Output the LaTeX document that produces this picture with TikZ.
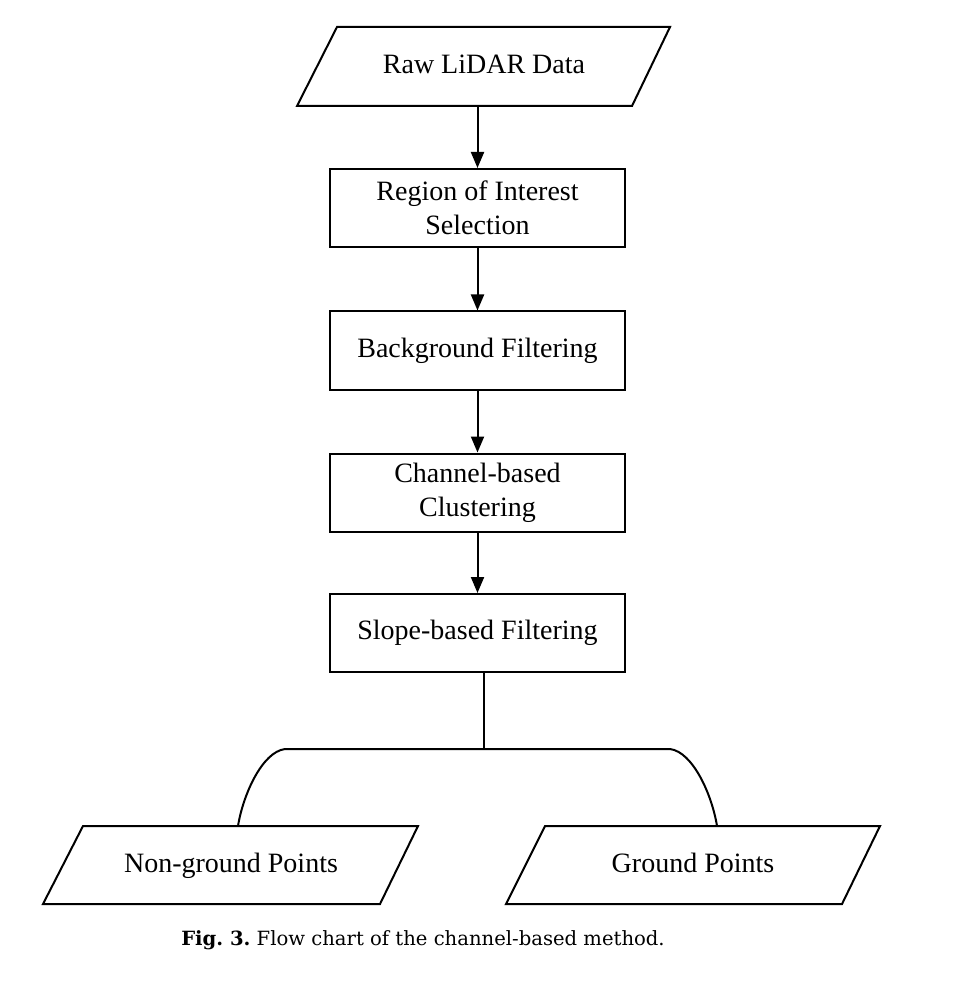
\documentclass[tikz,border=0pt]{standalone}
\usepackage{fontspec}
\setmainfont{Liberation Serif}
\newfontfamily\capfont{DejaVu Serif}
\usetikzlibrary{arrows.meta}
\begin{document}
\frenchspacing
\begin{tikzpicture}[x=0.5pt,y=-0.5pt,
  every node/.style={font=\fontsize{14}{17}\selectfont},
  procbox/.style={draw, line width=1pt, minimum width=147.5pt, minimum height=39pt, align=center, inner sep=0pt},
  iotext/.style={minimum width=150pt, minimum height=39pt, inner sep=0pt, outer sep=0pt, text height=10pt, text depth=3pt},
  ioframe/.style={draw, line width=1pt, line join=miter},
  flow/.style={line width=1pt, -{Triangle[length=8pt,width=6.5pt]}},
  link/.style={line width=1pt}]
\fill[white] (0,0) rectangle (954,988);
\useasboundingbox (0,0) rectangle (954,988);
% input / output parallelograms
\draw[ioframe] (297,106) -- (337,27) -- (670,27) -- (632,106) -- cycle;
\node[iotext, minimum height=39.5pt] (raw) at (484,66.5) {Raw LiDAR Data};
\draw[ioframe] (43,904) -- (83,826) -- (418,826) -- (380,904) -- cycle;
\node[iotext] (ng) at (231,865) {Non-ground Points};
\draw[ioframe] (506,904) -- (545,826) -- (880,826) -- (842,904) -- cycle;
\node[iotext] (gp) at (693,865) {Ground Points};
% process boxes
\node[procbox] (roi) at (477.5,208) {Region of Interest\\Selection};
\node[procbox] (bg) at (477.5,350.5) {Background Filtering};
\node[procbox] (cbc) at (477.5,492.5) {Channel-based\\Clustering};
\node[procbox] (slope) at (477.5,633) {Slope-based Filtering};
\node[font=\capfont\fontsize{9.8}{12}\selectfont] (cap) at (423,940) {\textbf{Fig. 3.} Flow chart of the channel-based method.};
% connectors
\draw[flow] (roi.north |- raw.south) -- (roi.north);
\draw[flow] (roi) -- (bg);
\draw[flow] (bg) -- (cbc);
\draw[flow] (cbc) -- (slope);
\coordinate (split) at (484,749);
\coordinate (bl) at (285,749);
\coordinate (br) at (670,749);
\draw[link] (slope.south -| split) -- (split);
\draw[link] ([xshift=3.5pt]ng.north) .. controls (243,795) and (262,752) .. (bl) -- (br) .. controls (693,752) and (712,795) .. ([xshift=12pt]gp.north);
\end{tikzpicture}
\end{document}
